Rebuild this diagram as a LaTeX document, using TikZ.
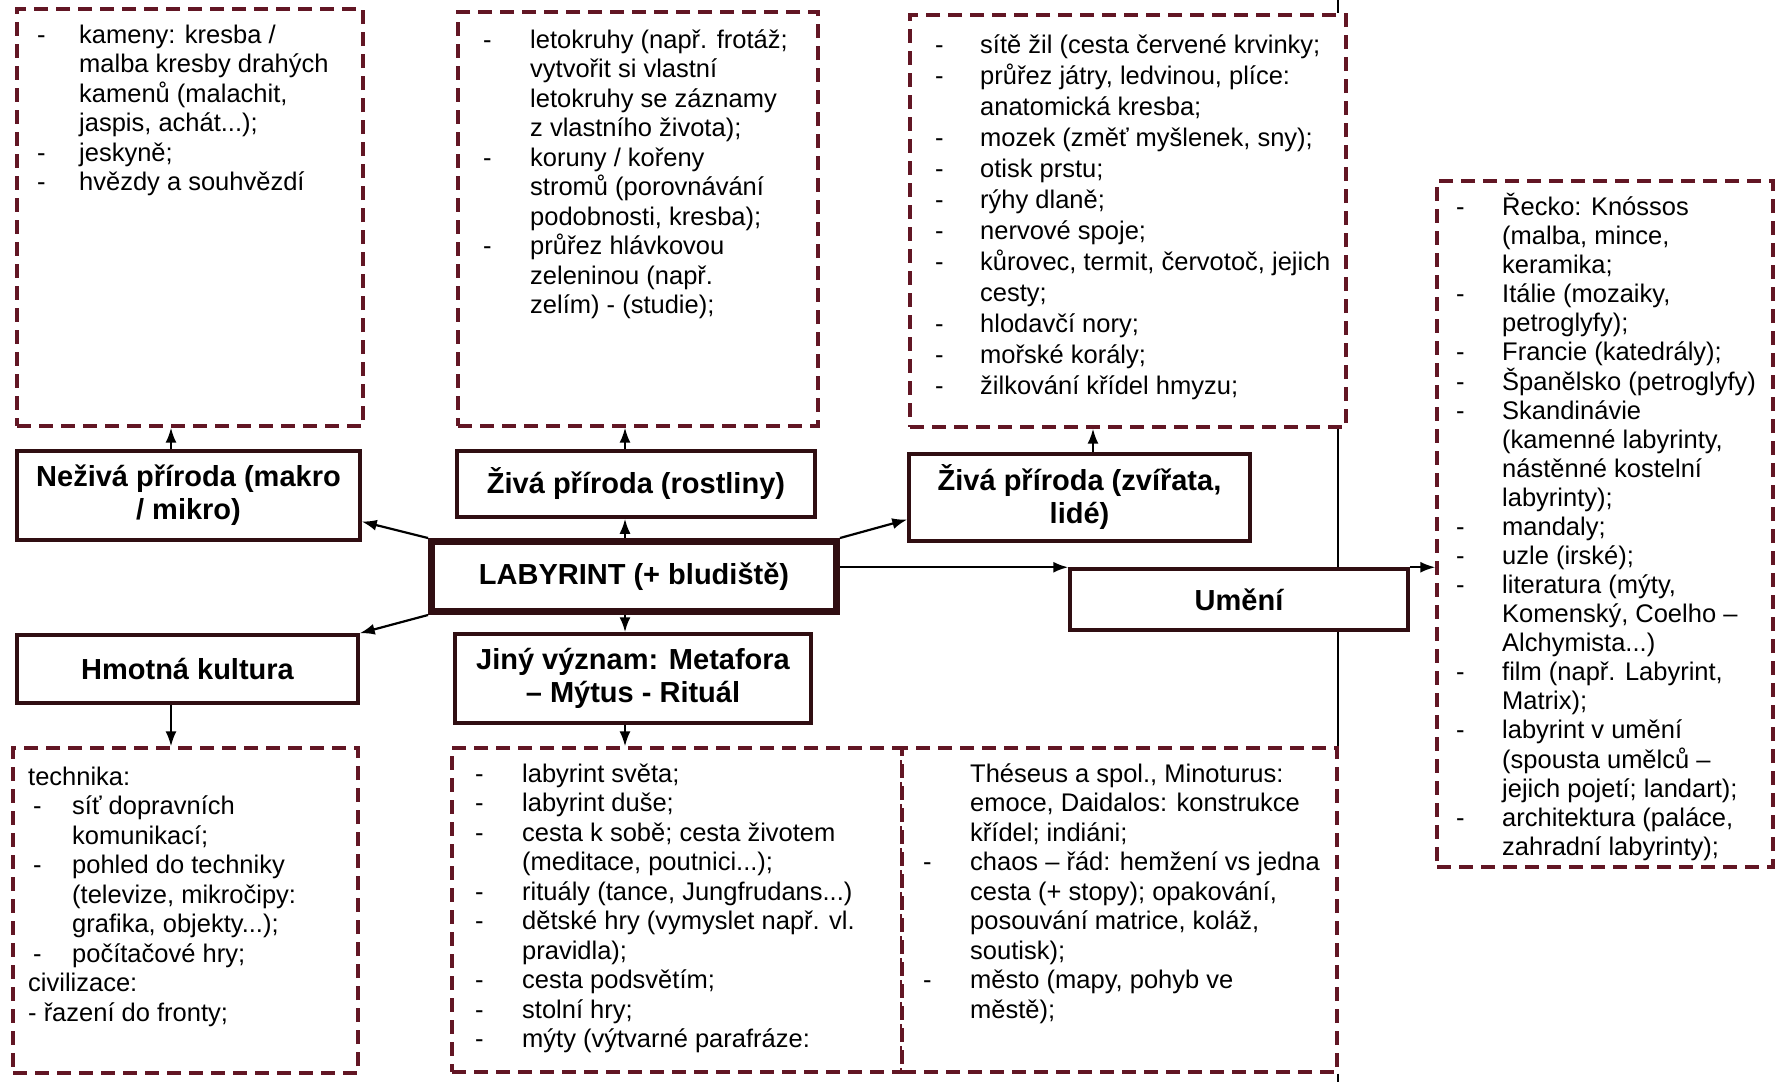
\documentclass[tikz,border=0pt]{standalone}
\usepackage{fontspec}
\setmainfont{Liberation Sans}
\usetikzlibrary{arrows.meta}
\definecolor{vinova}{RGB}{98,22,36}
\definecolor{tmava}{RGB}{48,14,18}
% seznam s pomlckami: sirka sloupce s pomlckou, radky
\newcommand{\polozky}[2]{\begin{tabular}[t]{@{}p{#1}@{}l@{}}#2\end{tabular}}
\tikzset{
  ramecek/.style={draw=tmava, line width=3.5pt, fill=white, align=center,
    inner sep=0pt, font=\bfseries\fontsize{29}{33}\selectfont},
  hlavni/.style={ramecek, line width=7pt},
  carkovany/.style={draw=vinova, line width=3.3pt, dash pattern=on 14pt off 8pt,
    fill=white, inner sep=0pt},
  seznam/.style={anchor=base west, inner sep=0pt, font=\fontsize{25.5}{29.5}\selectfont},
  sipka/.style={-{Latex[length=15pt,width=11pt]}, line width=2.2pt},
  okraj/.style={line width=2pt}
}
\begin{document}
\begin{tikzpicture}[x=1pt,y=-1pt]
\useasboundingbox (0,0) rectangle (1777,1082);
\fill[white] (0,0) rectangle (1777,1082);
\coordinate (osa-l) at (171,0);
\coordinate (osa-s) at (625,0);
\coordinate (osa-p) at (1093,0);
\coordinate (osa-r) at (1338,0);

% čárkované rámečky
\node[carkovany, minimum width=346pt, minimum height=417pt] (nez-sez) at (190,217.5) {};
\node[carkovany, minimum width=360pt, minimum height=414pt] (rost-sez) at (638,219) {};
\node[carkovany, minimum width=436pt, minimum height=412pt] (zvir-sez) at (1128,221) {};
\node[carkovany, minimum width=336pt, minimum height=686pt] (umeni-sez) at (1605,524) {};
\node[carkovany, minimum width=345pt, minimum height=325pt] (hmot-sez) at (185.5,910.5) {};
\node[carkovany, minimum width=450pt, minimum height=324pt] (jiny-sez) at (677,910) {};
\node[carkovany, minimum width=435pt, minimum height=324pt] (jiny-sez2) at (1119.5,910) {};

% texty seznamů
\node[seznam] (nez-txt) at (37,43) {\polozky{42pt}{%
- & kameny: kresba /\\
  & malba kresby drahých\\
  & kamenů (malachit,\\
  & jaspis, achát...);\\
- & jeskyně;\\
- & hvězdy a souhvězdí}};
\node[seznam] (rost-txt) at (483,48) {\polozky{47pt}{%
- & letokruhy (např. frotáž;\\
  & vytvořit si vlastní\\
  & letokruhy se záznamy\\
  & z vlastního života);\\
- & koruny / kořeny\\
  & stromů (porovnávání\\
  & podobnosti, kresba);\\
- & průřez hlávkovou\\
  & zeleninou (např.\\
  & zelím) - (studie);}};
\node[seznam, font=\fontsize{25.5}{31}\selectfont] (zvir-txt) at (935,53) {\polozky{45pt}{%
- & sítě žil (cesta červené krvinky;\\
- & průřez játry, ledvinou, plíce:\\
  & anatomická kresba;\\
- & mozek (změť myšlenek, sny);\\
- & otisk prstu;\\
- & rýhy dlaně;\\
- & nervové spoje;\\
- & kůrovec, termit, červotoč, jejich\\
  & cesty;\\
- & hlodavčí nory;\\
- & mořské korály;\\
- & žilkování křídel hmyzu;}};
\node[seznam, font=\fontsize{25.5}{29}\selectfont] (umeni-txt) at (1456,215) {\polozky{46pt}{%
- & Řecko: Knóssos\\
  & (malba, mince,\\
  & keramika;\\
- & Itálie (mozaiky,\\
  & petroglyfy);\\
- & Francie (katedrály);\\
- & Španělsko (petroglyfy)\\
- & Skandinávie\\
  & (kamenné labyrinty,\\
  & nástěnné kostelní\\
  & labyrinty);\\
- & mandaly;\\
- & uzle (irské);\\
- & literatura (mýty,\\
  & Komenský, Coelho –\\
  & Alchymista...)\\
- & film (např. Labyrint,\\
  & Matrix);\\
- & labyrint v umění\\
  & (spousta umělců –\\
  & jejich pojetí; landart);\\
- & architektura (paláce,\\
  & zahradní labyrinty);}};
\node[seznam] (hmot-txt) at (28,785) {\polozky{44pt}{%
\multicolumn{2}{@{}l@{}}{technika:}\\
\hspace{5pt}- & síť dopravních\\
  & komunikací;\\
\hspace{5pt}- & pohled do techniky\\
  & (televize, mikročipy:\\
  & grafika, objekty...);\\
\hspace{5pt}- & počítačové hry;\\
\multicolumn{2}{@{}l@{}}{civilizace:}\\
\multicolumn{2}{@{}l@{}}{- řazení do fronty;}}};
\node[seznam] (jiny-txt) at (475,782) {\polozky{47pt}{%
- & labyrint světa;\\
- & labyrint duše;\\
- & cesta k sobě; cesta životem\\
  & (meditace, poutnici...);\\
- & rituály (tance, Jungfrudans...)\\
- & dětské hry (vymyslet např. vl.\\
  & pravidla);\\
- & cesta podsvětím;\\
- & stolní hry;\\
- & mýty (výtvarné parafráze:}};
\node[seznam] (jiny-txt2) at (923,782) {\polozky{47pt}{%
  & Théseus a spol., Minoturus:\\
  & emoce, Daidalos: konstrukce\\
  & křídel; indiáni;\\
- & chaos – řád: hemžení vs jedna\\
  & cesta (+ stopy); opakování,\\
  & posouvání matrice, koláž,\\
  & soutisk);\\
- & město (mapy, pohyb ve\\
  & městě);}};

% hlavní rámečky
\node[ramecek, minimum width=343pt, minimum height=89pt] (nez) at (188.5,495.5) {Neživá příroda (makro\\/ mikro)};
\node[ramecek, minimum width=358pt, minimum height=66pt] (rost) at (636,484) {Živá příroda (rostliny)};
\node[ramecek, minimum width=341pt, minimum height=87pt] (zvir) at (1079.5,497.5) {Živá příroda (zvířata,\\lidé)};
\node[hlavni, minimum width=405pt, minimum height=70pt] (lab) at (634,576.5) {LABYRINT (+ bludiště)};
\node[ramecek, minimum width=341pt, minimum height=68pt] (hmot) at (187.5,669) {Hmotná kultura};
\node[ramecek, minimum width=356pt, minimum height=89pt] (jiny) at (633,678.5) {Jiný význam: Metafora\\– Mýtus - Rituál};
\node[ramecek, minimum width=338pt, minimum height=61pt] (umeni) at (1239,599.5) {Umění};

% svislá čára vpravo
\draw[okraj] (osa-r) -- (zvir-sez.north -| osa-r);
\draw[okraj] (zvir-sez.south -| osa-r) -- (umeni.north -| osa-r);
\draw[okraj] (umeni.south -| osa-r) -- (jiny-sez2.north -| osa-r);
\draw[okraj] (jiny-sez2.south -| osa-r) -- (osa-r |- 0,1082);

% šipky
\draw[sipka] (lab.north -| osa-s) -- (rost.south -| osa-s);
\draw[sipka] (rost.north -| osa-s) -- (rost-sez.south -| osa-s);
\draw[sipka] (lab.south -| osa-s) -- (jiny.north -| osa-s);
\draw[sipka] (jiny.south -| osa-s) -- (jiny-sez.north -| osa-s);
\draw[sipka] (lab.north west) -- ([yshift=-26pt]nez.east);
\draw[sipka] (nez.north -| osa-l) -- (nez-sez.south -| osa-l);
\draw[sipka] (lab.south west) -- (hmot.north east);
\draw[sipka] (hmot.south -| osa-l) -- (hmot-sez.north -| osa-l);
\draw[sipka] (lab.north east) -- ([yshift=-22pt]zvir.west);
\draw[sipka] (zvir.north -| osa-p) -- (zvir-sez.south -| osa-p);
\draw[sipka] (umeni.north -| lab.east) -- (umeni.north west);
\draw[sipka] (umeni.north east) -- (umeni.north -| umeni-sez.west);
\end{tikzpicture}
\end{document}
